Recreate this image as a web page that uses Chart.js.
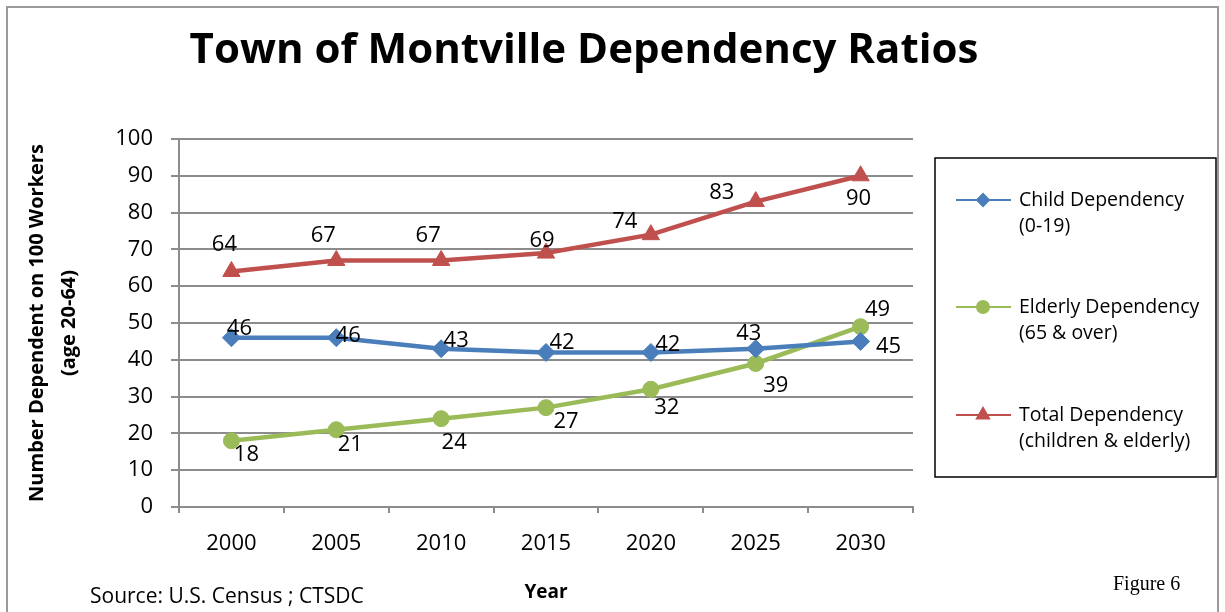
<!DOCTYPE html>
<html>
<head>
<meta charset="utf-8">
<script src="https://cdn.jsdelivr.net/npm/chart.js@4"></script>
<style>
  html, body { margin: 0; padding: 0; background: #fff; }
  #wrap { width: 1225px; height: 612px; position: relative; }
</style>
</head>
<body>
<div id="wrap"><canvas id="chart-dependency" width="1225" height="612"></canvas></div>
<script>
// data
const years = ["2000", "2005", "2010", "2015", "2020", "2025", "2030"];
const childDep = [46, 46, 43, 42, 42, 43, 45];
const elderlyDep = [18, 21, 24, 27, 32, 39, 49];
const totalDep = [64, 67, 67, 69, 74, 83, 90];
const yMin = 0, yMax = 100, yStep = 10;

const BLUE = "#4a7ebb", GREEN = "#9bbb59", RED = "#c0504d";
const FONT = "'Open Sans', 'DejaVu Sans', sans-serif";

// where Excel put each value label, relative to its point
const labelOffsets = [
  [[8, -9], [12, -2], [15, -8], [16, -10], [17, -8], [-7, -15], [28, 5]],
  [[15, 14], [14, 15], [13, 24], [20, 14], [16, 18], [20, 22], [17, -17]],
  [[-7, -27], [-13, -25], [-13, -25], [-4, -12], [-26, -13], [-34, -9], [-2, 23]]
];

const extras = {
  id: "extras",
  afterDraw(chart) {
    const ctx = chart.ctx;
    ctx.save();

    // outer frame
    ctx.strokeStyle = "#9a9a9a";
    ctx.lineWidth = 2;
    ctx.strokeRect(7, 7, 1211, 640);

    // title
    ctx.fillStyle = "#000";
    ctx.textAlign = "center";
    ctx.textBaseline = "middle";
    ctx.font = "bold 42px " + FONT;
    ctx.fillText("Town of Montville Dependency Ratios", 584, 51);

    // value labels
    ctx.font = "22px " + FONT;
    chart.data.datasets.forEach((ds, i) => {
      chart.getDatasetMeta(i).data.forEach((pt, j) => {
        const off = labelOffsets[i][j];
        ctx.fillText(String(ds.data[j]), pt.x + off[0], pt.y + off[1]);
      });
    });

    // legend box
    ctx.strokeStyle = "#000";
    ctx.lineWidth = 1.5;
    ctx.strokeRect(935, 158, 281, 319);
    const rows = [200, 307, 415];
    ctx.textAlign = "left";
    ctx.font = "19.5px " + FONT;
    chart.data.datasets.forEach((ds, i) => {
      const y = rows[i];
      ctx.strokeStyle = ds.borderColor;
      ctx.fillStyle = ds.borderColor;
      ctx.lineWidth = 2;
      ctx.beginPath();
      ctx.moveTo(956, y);
      ctx.lineTo(1011, y);
      ctx.stroke();
      Chart.helpers.drawPoint(ctx, {
        pointStyle: ds.pointStyle, radius: ds.legendRadius, rotation: 0, borderWidth: 1
      }, 983, y);
      ctx.fillStyle = "#000";
      ds.legendLines.forEach((t, k) => ctx.fillText(t, 1019, y + k * 26));
    });

    // source and figure notes
    ctx.font = "21px " + FONT;
    ctx.fillText("Source: U.S. Census ; CTSDC", 90, 597);
    ctx.font = "20px 'Liberation Serif', serif";
    ctx.fillText("Figure 6", 1113, 585);

    ctx.restore();
  }
};

new Chart(document.getElementById("chart-dependency").getContext("2d"), {
  type: "line",
  data: {
    labels: years,
    datasets: [{
      label: "Child Dependency (0-19)",
      legendLines: ["Child Dependency", "(0-19)"],
      data: childDep,
      borderColor: BLUE,
      backgroundColor: BLUE,
      borderWidth: 4.5,
      tension: 0,
      pointStyle: "rectRot",
      pointRadius: 9,
      legendRadius: 6,
      pointBorderWidth: 1
    }, {
      label: "Elderly Dependency (65 & over)",
      legendLines: ["Elderly Dependency", "(65 & over)"],
      data: elderlyDep,
      borderColor: GREEN,
      backgroundColor: GREEN,
      borderWidth: 4.5,
      tension: 0,
      pointStyle: "circle",
      pointRadius: 8,
      legendRadius: 6,
      pointBorderWidth: 1
    }, {
      label: "Total Dependency (children & elderly)",
      legendLines: ["Total Dependency", "(children & elderly)"],
      data: totalDep,
      borderColor: RED,
      backgroundColor: RED,
      borderWidth: 4.5,
      tension: 0,
      pointStyle: "triangle",
      pointRadius: 10,
      legendRadius: 7,
      pointBorderWidth: 1
    }]
  },
  options: {
    responsive: false,
    animation: false,
    layout: { padding: { left: 0, top: 139, right: 312, bottom: 0 } },
    plugins: {
      legend: { display: false },
      title: { display: false },
      tooltip: { enabled: false }
    },
    scales: {
      x: {
        offset: true,
        afterFit: s => { s.height = 105; },
        grid: {
          offset: true,
          drawOnChartArea: false,
          drawTicks: true,
          tickLength: 6,
          color: "#8c8c8c",
          lineWidth: 2
        },
        border: { display: true, color: "#8c8c8c", width: 2 },
        ticks: { color: "#000", padding: 18, font: { size: 22, family: FONT } },
        title: {
          display: true,
          text: "Year",
          color: "#000",
          font: { size: 19, weight: "bold", family: FONT },
          padding: { top: 0, bottom: 8 }
        }
      },
      y: {
        min: yMin,
        max: yMax,
        afterFit: s => { s.width = 179; },
        grid: { color: "#8c8c8c", lineWidth: 2, tickLength: 8, drawTicks: true },
        border: { display: true, color: "#8c8c8c", width: 2 },
        ticks: { stepSize: yStep, color: "#000", padding: 18, font: { size: 22, family: FONT } },
        title: {
          display: true,
          text: ["Number Dependent on 100 Workers", "(age 20-64)"],
          color: "#000",
          font: { size: 20, weight: "bold", family: FONT, lineHeight: 1.6 },
          padding: { top: 21, bottom: 0 }
        }
      }
    }
  },
  plugins: [extras]
});
</script>
</body>
</html>
